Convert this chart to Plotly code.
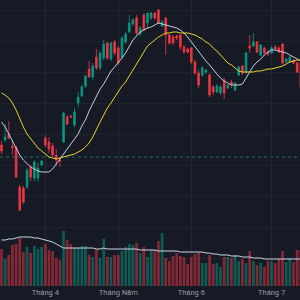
import plotly.graph_objects as go

# ---- data (price units, volume in 10k shares) ----
idx = list(range(83))
open_ = [155,160,166,154,153,113,112,113,133,122,122,135,162,158,154,145,140,158,183,184,
         175,197,204,214,231,223,243,232,242,257,241,258,252,243,258,268,276,282,266,285,
         277,282,287,290,274,282,265,263,264,265,253,251,252,238,227,225,228,225,213,208,
         207,220,212,218,210,225,234,228,254,254,258,245,252,248,247,253,252,256,238,238,
         240,237,237]
close = [149,163,162,152,123,90,98,130,123,138,132,139,155,151,145,140,139,187,176,183,
         188,203,213,224,223,234,232,247,256,242,257,247,237,262,266,277,280,267,272,270,
         287,287,282,277,278,265,257,257,262,253,248,248,238,227,215,232,230,205,208,214,
         213,207,215,215,217,233,227,247,252,258,248,255,247,246,252,251,248,237,241,243,
         237,228,213]
high = [159,176,179,160,154,115,114,132,135,140,137,140,165,163,157,151,143,188,185,185,
        192,208,215,225,239,237,251,249,260,258,258,260,254,264,268,285,282,285,274,287,
        287,288,288,291,280,283,266,265,265,266,255,252,253,240,230,234,231,227,215,216,
        215,222,216,220,218,234,235,248,265,267,259,256,253,250,254,255,254,257,242,244,
        241,238,238]
low = [146,158,161,145,122,89,96,111,119,119,118,134,153,147,143,134,133,157,175,182,
       173,193,203,212,222,220,230,230,240,240,239,245,235,241,256,267,274,265,264,269,
       271,280,280,276,273,245,255,255,260,250,246,246,236,225,212,223,226,203,205,207,
       205,201,211,212,209,224,225,226,247,253,247,244,246,244,246,250,247,235,237,237,
       236,227,212]
ma_fast = [178,173,166,159,152,145,140,136,133,131,129,128,128,128,131,136,141,146,151,155,
           160,166,174,180,189,196,203,211,216,222,229,233,237,242,247,254,260,264,268,270,
           272,273,275,277,276,275,274,273,272,270,267,263,258,253,248,243,239,235,230,226,
           222,219,217,215,215,215,216,222,229,234,238,241,245,248,250,250,249,248,247,245,
           243,241,239]
ma_slow = [207,205,202,197,190,181,173,166,161,156,152,149,146,143,142,141,142,143,144,145,
           146,148,150,153,157,163,171,178,185,192,197,203,209,214,218,224,231,237,243,248,
           254,257,260,263,265,267,267,268,268,267,267,267,266,265,263,261,258,256,252,249,
           245,241,237,235,232,229,228,228,228,228,229,229,230,231,231,232,233,234,236,238,
           239,240,240]
volume = [37,27,31,41,42,48,34,39,33,40,37,39,42,36,35,28,26,55,46,42,
          38,38,40,40,31,29,37,28,47,29,29,31,31,35,39,42,41,43,33,39,
          29,36,36,45,53,28,25,30,33,30,29,22,29,32,33,23,23,31,22,23,
          19,29,29,28,31,25,27,23,35,25,21,23,19,25,25,23,27,35,24,28,
          24,36,36]
vol_ma = [46,46,47,47,48,49,49,49,49,48,48,47,46,45,44,42,40,38,38,38,
          38,38,38,38,38,38,37,37,38,37,37,37,37,37,37,37,37,37,36,36,
          36,36,36,35,35,35,35,35,35,34,34,34,34,34,34,34,33,33,32,32,
          31,31,31,30,30,30,29,29,29,28,28,28,27,27,27,27,27,27,27,27,
          27,27,27]
tick_idx = [12, 32, 52, 74]
tick_text = ["Tháng 4", "Tháng Năm", "Tháng 6", "Tháng 7"]
price_line = 143

UP, DN = "#089981", "#f23645"
UPV, DNV = "rgba(8,153,129,0.5)", "rgba(242,54,69,0.5)"
vol_colors = [UPV if c >= o else DNV for o, c in zip(open_, close)]

fig = go.Figure()
fig.add_trace(go.Bar(x=idx, y=volume, marker_color=vol_colors, marker_line_width=0,
                     width=0.75, yaxis="y2", showlegend=False))
fig.add_trace(go.Scatter(x=idx, y=vol_ma, mode="lines", line=dict(color="#c9d3e6", width=1),
                         yaxis="y2", showlegend=False))
fig.add_trace(go.Candlestick(x=idx, open=open_, high=high, low=low, close=close,
                             increasing=dict(line=dict(color=UP, width=0.8), fillcolor=UP),
                             decreasing=dict(line=dict(color=DN, width=0.8), fillcolor=DN),
                             whiskerwidth=0, showlegend=False))
fig.add_trace(go.Scatter(x=idx, y=ma_fast, mode="lines", line=dict(color="#c3cde0", width=1),
                         showlegend=False))
fig.add_trace(go.Scatter(x=idx, y=ma_slow, mode="lines", line=dict(color="#e9d22c", width=1),
                         showlegend=False))

fig.add_shape(type="line", xref="paper", x0=0, x1=1, yref="y", y0=price_line, y1=price_line,
              line=dict(color="#1d6e66", width=1, dash="3px,3px"), layer="below")

fig.update_layout(
    width=300, height=300, margin=dict(l=0, r=0, t=0, b=14),
    paper_bgcolor="#161a25", plot_bgcolor="#161a25",
    boxgap=0.35,
    xaxis=dict(range=[-0.411, 81.78], tickvals=tick_idx, ticktext=tick_text,
               showgrid=True, gridcolor="#232732", gridwidth=1, zeroline=False,
               showline=False, ticks="", tickfont=dict(size=7.5, color="#9a9da6",
               family="Roboto"), rangeslider=dict(visible=False)),
    yaxis=dict(range=[14, 300], showticklabels=False, showgrid=True, gridcolor="#1f232e",
               tick0=258.5, dtick=31, zeroline=False, showline=False),
    yaxis2=dict(range=[0, 286], overlaying="y", showticklabels=False, showgrid=False,
                zeroline=False, showline=False),
    hovermode=False,
)
fig.write_html("out.html")
